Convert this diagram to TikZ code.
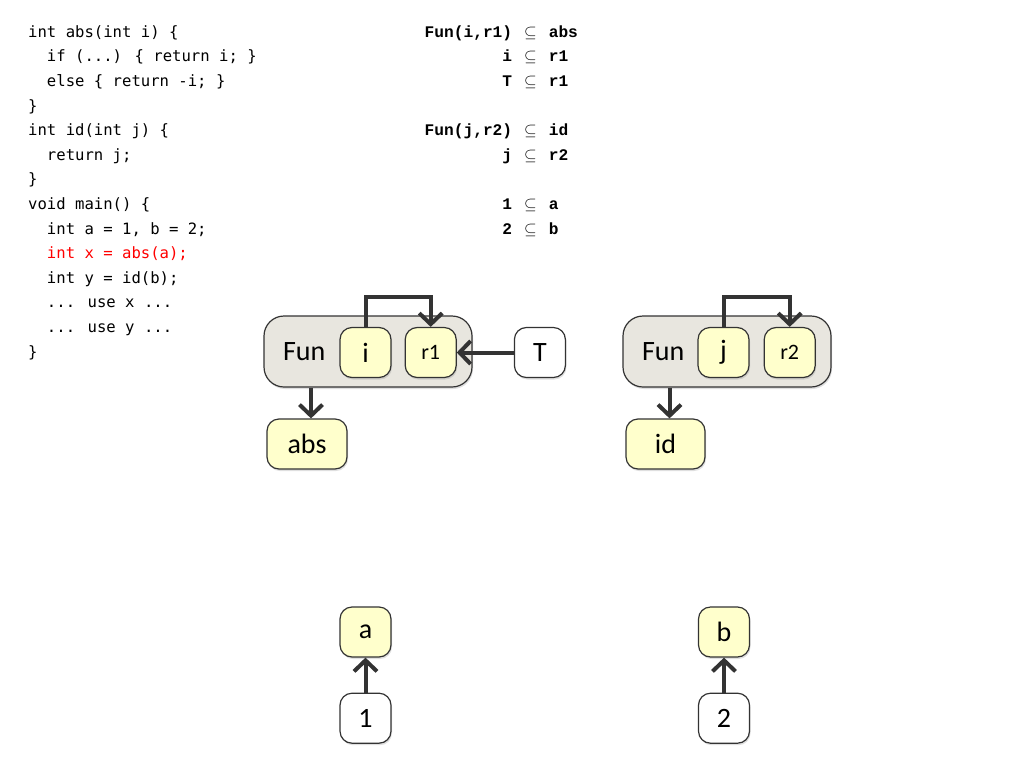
\documentclass[tikz,border=0pt]{standalone}
\usepackage{fontspec}
\usepackage{fix-cm}
\setmainfont{Carlito}
\newfontfamily\codefont{DejaVu Sans Mono}
\newfontfamily\consfont{Liberation Mono}
\usetikzlibrary{arrows.meta, positioning, shadows}
\definecolor{funfill}{HTML}{E8E6DF}
\definecolor{cellfill}{HTML}{FFFFCC}
\definecolor{ink}{HTML}{333333}
\newcommand{\ind}{\phantom{xx}}

\begin{document}
\begin{tikzpicture}[x=1pt, y=-1pt,
  cell/.style={draw=ink, line width=1.2pt, fill=cellfill, rounded corners=12pt, minimum width=51pt, minimum height=50pt, inner sep=2pt, font=\fontsize{28}{30}\selectfont, drop shadow={opacity=0.25, shadow xshift=1pt, shadow yshift=-2pt}},
  lit/.style={cell, fill=white},
  fun/.style={cell, fill=funfill, rounded corners=20pt, minimum height=71pt, text width=170pt, inner xsep=19pt, align=left},
  small/.style={font=\fontsize{22}{24}\selectfont},
  edge/.style={draw=ink, line width=4pt, -{Straight Barb[length=11pt,width=23pt]}}
]
\useasboundingbox (0,0) rectangle (1024,768);

% program text
\node[anchor=north west, inner sep=0pt, font=\codefont\fontsize{15.6}{24.6}\selectfont] (code) at (28,19.8) {\begin{tabular}{@{}l@{}}
int abs(int i) \{\\
\ind if (...) \{ return i; \}\\
\ind else \{ return -i; \}\\
\}\\
int id(int j) \{\\
\ind return j;\\
\}\\
void main() \{\\
\ind int a = 1, b = 2;\\
\textcolor{red}{\ind int x = abs(a);}\\
\ind int y = id(b);\\
\ind ... use x ...\\
\ind ... use y ...\\
\}
\end{tabular}};

% constraints
\node[anchor=north west, inner sep=0pt, font=\consfont\bfseries\fontsize{16.2}{24.6}\selectfont] (cons) at (424.5,19.8) {\begin{tabular}{@{}r@{\hspace{12pt}}c@{\hspace{12pt}}l@{}}
Fun(i,r1) & $\subseteq$ & abs\\
i & $\subseteq$ & r1\\
T & $\subseteq$ & r1\\
 & & \\
Fun(j,r2) & $\subseteq$ & id\\
j & $\subseteq$ & r2\\
 & & \\
1 & $\subseteq$ & a\\
2 & $\subseteq$ & b
\end{tabular}};

% abs
\node[fun] (fun1) at (368,351.5) {Fun};
\node[cell] (i) at (365.5,352.5) {i};
\node[cell, small, right=13pt of i] (r1) {r1};
\node[lit, right=57pt of r1] (T) {T};
\node[cell, minimum width=80pt] (abs) at (307,444) {abs};

% id
\node[fun] (fun2) at (727,351.5) {Fun};
\node[cell] (j) at (723.5,352.5) {j};
\node[cell, small, right=14pt of j] (r2) {r2};
\node[cell, minimum width=79pt] (id) at (665.5,444) {id};

% constants
\node[cell] (a) at (365.5,632) {a};
\node[lit, below=35pt of a] (n1) {1};
\node[cell] (b) at (724,632) {b};
\node[lit, below=35pt of b] (n2) {2};

\draw[edge] (i.north) -- ++(0,-30) -| (r1.north);
\draw[edge] (T) -- (r1);
\draw[edge] ([xshift=4pt]abs.north |- fun1.south) -- ([xshift=4pt]abs.north);
\draw[edge] (j.north) -- ++(0,-30) -| (r2.north);
\draw[edge] ([xshift=4pt]id.north |- fun2.south) -- ([xshift=4pt]id.north);
\draw[edge] (n1) -- (a);
\draw[edge] (n2) -- (b);
\end{tikzpicture}
\end{document}
